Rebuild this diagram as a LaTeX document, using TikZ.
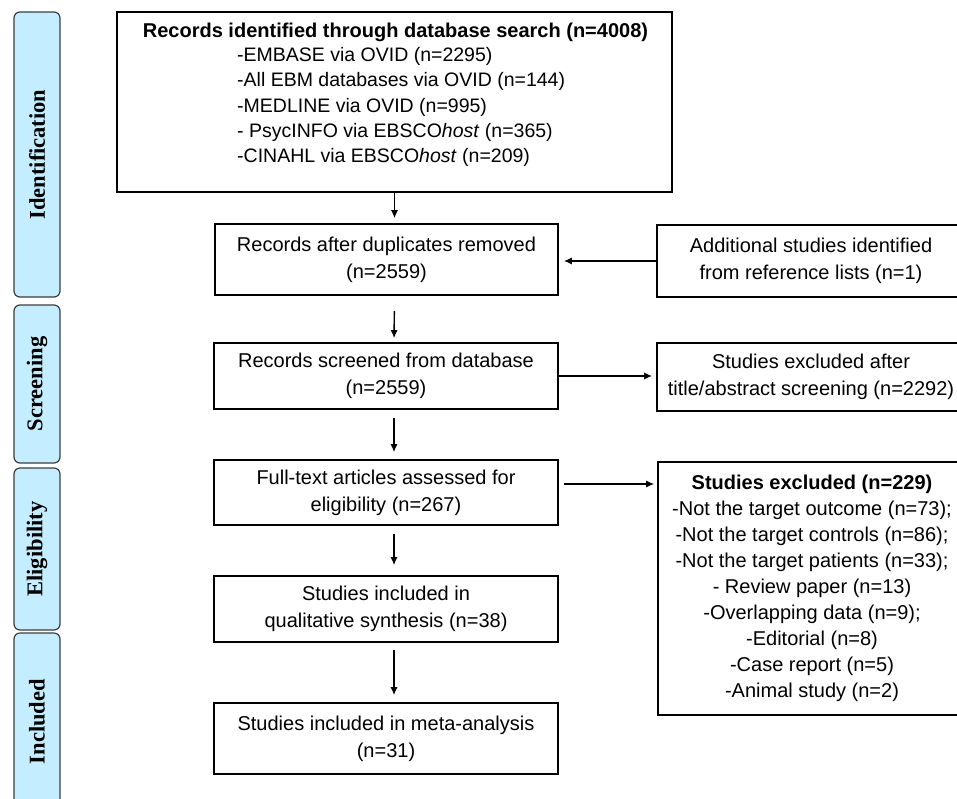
\documentclass[tikz,border=0pt]{standalone}
\usepackage{fontspec}
\setmainfont{Liberation Sans}
\newfontfamily\phasefont{Liberation Serif}
\usetikzlibrary{arrows.meta}
\definecolor{phasefill}{RGB}{196,238,255}
\definecolor{phaseline}{RGB}{60,60,60}
\tikzset{
  box/.style={draw=black, line width=1.6pt, fill=white, inner sep=0pt, align=center,
    font=\fontsize{20}{27}\selectfont},
  phase/.style={draw=phaseline, line width=1.2pt, fill=phasefill, rounded corners=6pt,
    inner sep=0pt, rotate=90,
    font=\phasefont\bfseries\fontsize{22.5}{26}\selectfont},
  arr/.style={draw=black, line width=1.4pt, -{Latex[length=8pt,width=7pt]}},
  txt/.style={inner sep=0pt, font=\fontsize{19.5}{25.2}\selectfont}
}
\begin{document}
\begin{tikzpicture}[x=1pt,y=-1pt]
\useasboundingbox (0,0) rectangle (957,798);
\clip (0,0) rectangle (957,798);
% phase labels
\node[phase, minimum height=46pt, minimum width=285pt] (p1) at (37,154.5) {Identification};
\node[phase, minimum height=46pt, minimum width=158pt] (p2) at (37,384) {Screening};
\node[phase, minimum height=46pt, minimum width=162pt] (p3) at (37,549) {Eligibility};
\node[phase, minimum height=46pt, minimum width=177pt] (p4) at (37,721.5) {Included};
% box 1
\node[box, minimum width=555pt, minimum height=180pt] (b1) at (394.5,102) {};
\node[txt, font=\bfseries\fontsize{20}{25}\selectfont] (t1) at (395.5,32) {Records identified through database search (n=4008)};
\node[txt, anchor=west, align=left] (t2) at (237,107) {-EMBASE via OVID (n=2295)\\
-All EBM databases via OVID (n=144)\\
-MEDLINE via OVID (n=995)\\
- PsycINFO via EBSCO\textit{host} (n=365)\\
-CINAHL via EBSCO\textit{host} (n=209)};
% main column
\node[box, minimum width=343pt, minimum height=71pt] (b2) at (386.5,259.5) {Records after duplicates removed\\(n=2559)};
\node[box, minimum width=344pt, minimum height=66pt] (b3) at (386,376) {Records screened from database\\(n=2559)};
\node[box, minimum width=344pt, minimum height=65pt] (b4) at (386,492.5) {Full-text articles assessed for\\eligibility (n=267)};
\node[box, minimum width=344pt, minimum height=66pt] (b5) at (386,609) {Studies included in\\qualitative synthesis (n=38)};
\node[box, minimum width=344pt, minimum height=71pt] (b6) at (386,738.5) {Studies included in meta-analysis\\(n=31)};
% right column
\node[box, minimum width=308pt, minimum height=72pt] (add) at (811,261) {Additional studies identified\\from reference lists (n=1)};
\node[box, minimum width=308pt, minimum height=68pt] (ex1) at (811,377) {Studies excluded after\\title/abstract screening (n=2292)};
\node[box, minimum width=308pt, minimum height=253pt, font=\fontsize{20}{26}\selectfont] (ex2) at (812,588.5) {\textbf{Studies excluded (n=229)}\\
-Not the target outcome (n=73);\\
-Not the target controls (n=86);\\
-Not the target patients (n=33);\\
- Review paper (n=13)\\
-Overlapping data (n=9);\\
-Editorial (n=8)\\
-Case report (n=5)\\
-Animal study (n=2)};
% connectors
\draw[arr, shorten >=5pt] (b1.south) -- (b1.south |- b2.north);
\draw[arr, shorten <=15pt, shorten >=4pt] ([xshift=8pt]b2.south) -- ([xshift=8pt]b3.north);
\draw[arr, shorten <=8pt, shorten >=7pt] ([xshift=8pt]b3.south) -- ([xshift=8pt]b4.north);
\draw[arr, shorten <=8pt, shorten >=10pt] ([xshift=8pt]b4.south) -- ([xshift=8pt]b5.north);
\draw[arr, shorten <=7pt, shorten >=7pt] ([xshift=8pt]b5.south) -- ([xshift=8pt]b6.north);
\draw[arr, shorten >=5pt] (add.west) -- (add.west -| b2.east);
\draw[arr, shorten >=4pt] (b3.east) -- (b3.east -| ex1.west);
\draw[arr, shorten <=5pt, shorten >=3pt] ([yshift=8.5pt]b4.east) -- ([yshift=8.5pt]b4.east -| ex2.west);
\end{tikzpicture}
\end{document}
